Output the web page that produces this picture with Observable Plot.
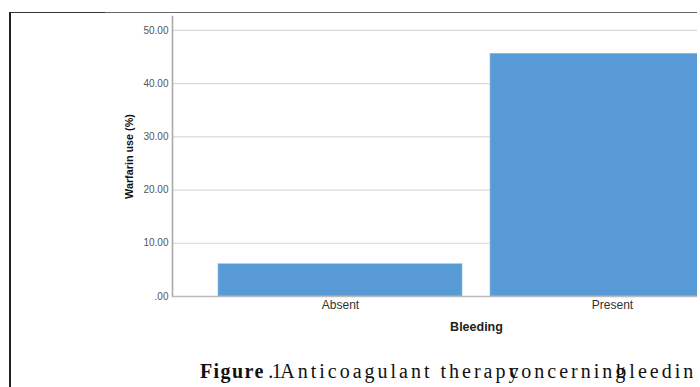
<!DOCTYPE html>
<html>
<head>
<meta charset="utf-8">
<script src="https://cdn.jsdelivr.net/npm/d3@7"></script>
<script src="https://cdn.jsdelivr.net/npm/@observablehq/plot@0.6"></script>
<style>
  html, body { margin: 0; padding: 0; background: #fff; }
  #frame { position: relative; width: 700px; height: 387px; overflow: hidden; background: #fff; }
  #clip { position: absolute; left: 0; top: 0; width: 697px; height: 387px; overflow: hidden; }
  #leftline { position: absolute; left: 9px; top: 12px; width: 2px; height: 380px; background: #222; }
  #topline { position: absolute; left: 10px; top: 12px; width: 687px; height: 1px; background: #666; }
  #topline2 { position: absolute; left: 10px; top: 12px; width: 95px; height: 1px; background: #333; }
  #caption { position: absolute; left: 200px; top: 361px; white-space: nowrap; line-height: 20px;
    font-family: "Liberation Serif", "DejaVu Serif", serif; font-size: 20px; letter-spacing: 3px; color: #111; }
  #caption b { font-weight: bold; letter-spacing: 1.4px; }
  #caption .num { letter-spacing: -1.5px; }
  #caption .tail { word-spacing: -20px; }
  #chart svg { max-width: none !important; overflow: visible; }
</style>
</head>
<body>
<div id="frame">
  <div id="clip">
    <div id="chart"></div>
    <div id="caption"><b>Figure</b><span class="num"> .1</span>Anticoagulant <span class="tail">therapy concerning bleeding</span></div>
  </div>
  <div id="leftline"></div>
  <div id="topline"></div>
  <div id="topline2"></div>
</div>
<script>
const categories = ["Absent", "Present"];
const values = [6.06, 45.6];
const yTicks = [0, 10, 20, 30, 40, 50];

const data = categories.map((c, i) => ({bleeding: c, warfarin: values[i]}));

const chart = Plot.plot({
  width: 780,
  height: 340,
  marginLeft: 172,
  marginRight: 0,
  marginTop: 16,
  marginBottom: 44,
  style: {fontFamily: "'Liberation Sans', Arial, sans-serif", fontSize: "10px", color: "#333", background: "transparent", maxWidth: "none"},
  x: {domain: categories, paddingInner: 0.1026, paddingOuter: 0.165, label: null},
  y: {domain: [0, 52.6], label: null},
  marks: [
    Plot.gridY(yTicks, {stroke: "#d9d9d9", strokeOpacity: 1, strokeWidth: 1.2}),
    Plot.barY(data, {x: "bleeding", y: "warfarin", fill: "#579ad5", stroke: "#8fbde6", strokeWidth: 0.6}),
    Plot.axisY(yTicks, {tickSize: 0, tickPadding: 4, tickFormat: d => d === 0 ? ".00" : d.toFixed(2), fill: "#555", fontSize: 10,
      label: "Warfarin use (%)", labelAnchor: "center", labelOffset: 47, labelArrow: false}),
    Plot.axisX({tickSize: 0, tickPadding: 4, fontSize: 12, fill: "#333",
      label: "Bleeding", labelAnchor: "center", labelOffset: 34, labelArrow: false}),
    Plot.frame({anchor: "left", stroke: "#aaa", strokeWidth: 1.6}),
    Plot.ruleY([0], {stroke: "#bbb", strokeWidth: 1.4})
  ]
});
document.getElementById("chart").appendChild(chart);
chart.querySelectorAll("g[aria-label='y-axis label'] text").forEach(t => {
  t.setAttribute("font-weight", "bold");
  t.setAttribute("font-size", "10.8");
  t.setAttribute("fill", "#111");
});
chart.querySelectorAll("g[aria-label='x-axis label'] text").forEach(t => {
  t.setAttribute("font-weight", "bold");
  t.setAttribute("font-size", "12.5");
  t.setAttribute("fill", "#222");
});
</script>
</body>
</html>
